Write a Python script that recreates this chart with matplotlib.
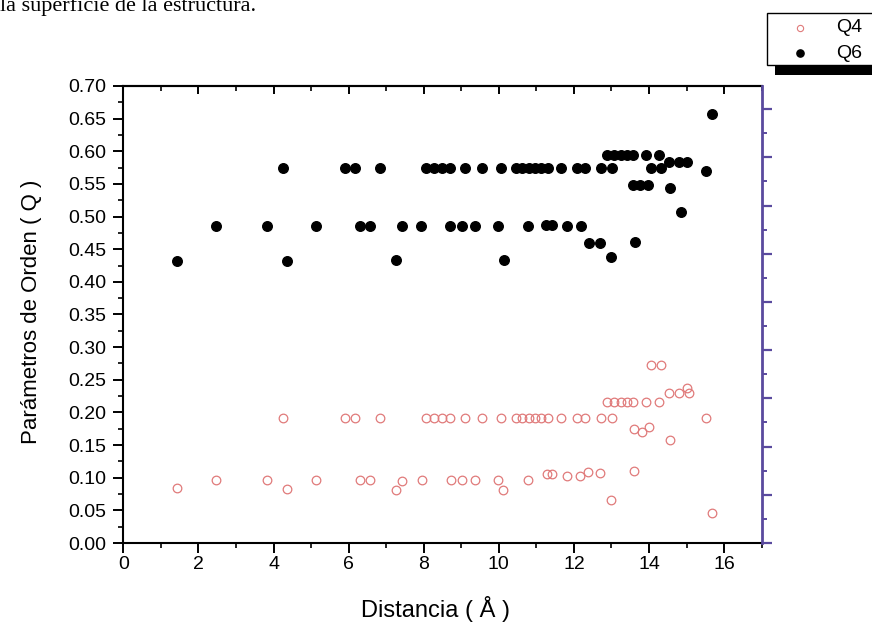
import matplotlib
matplotlib.use("Agg")
import matplotlib.pyplot as plt
from matplotlib.ticker import MultipleLocator, NullFormatter
from matplotlib.lines import Line2D
from matplotlib.patches import Rectangle

plt.rcParams['font.family'] = ['Liberation Sans', 'DejaVu Sans']

# ---- data ----
q6_x = [1.44, 2.46, 3.82, 4.25, 4.36, 5.14, 5.91, 6.16, 6.29, 6.56, 6.83, 7.25,
        7.42, 7.94, 8.05, 8.27, 8.49, 8.70, 8.71, 9.02, 9.09, 9.36, 9.54, 9.99,
        10.05, 10.13, 10.45, 10.62, 10.77, 10.80, 10.97, 11.13, 11.26, 11.30,
        11.42, 11.65, 11.82, 12.09, 12.18, 12.30, 12.40, 12.69, 12.71, 12.89,
        12.98, 13.01, 13.07, 13.25, 13.42, 13.56, 13.58, 13.63, 13.75, 13.91,
        13.97, 14.04, 14.27, 14.31, 14.53, 14.56, 14.80, 14.86, 15.02, 15.51, 15.69]
q6 = [0.432, 0.485, 0.485, 0.575, 0.432, 0.485, 0.575, 0.575, 0.485, 0.485, 0.575, 0.433,
      0.485, 0.485, 0.575, 0.575, 0.575, 0.575, 0.485, 0.485, 0.575, 0.485, 0.575, 0.485,
      0.575, 0.434, 0.575, 0.575, 0.485, 0.575, 0.575, 0.575, 0.487, 0.575,
      0.487, 0.575, 0.485, 0.575, 0.485, 0.575, 0.459, 0.459, 0.575, 0.594,
      0.438, 0.575, 0.594, 0.594, 0.594, 0.548, 0.594, 0.461, 0.548, 0.594,
      0.548, 0.575, 0.594, 0.575, 0.583, 0.543, 0.583, 0.507, 0.583, 0.570, 0.657]

q4_x = [1.44, 2.46, 3.82, 4.25, 4.37, 5.14, 5.91, 6.16, 6.29, 6.56, 6.83, 7.25,
        7.42, 7.95, 8.05, 8.27, 8.49, 8.70, 8.73, 9.02, 9.09, 9.36, 9.54, 9.99,
        10.05, 10.12, 10.45, 10.62, 10.77, 10.80, 10.97, 11.13, 11.27, 11.30,
        11.42, 11.65, 11.82, 12.09, 12.17, 12.30, 12.38, 12.69, 12.71, 12.89,
        12.98, 13.01, 13.07, 13.25, 13.42, 13.58, 13.60, 13.61, 13.80, 13.91,
        14.00, 14.04, 14.27, 14.31, 14.53, 14.56, 14.80, 15.02, 15.07, 15.51, 15.69]
q4 = [0.085, 0.097, 0.097, 0.191, 0.083, 0.097, 0.191, 0.191, 0.097, 0.097, 0.191, 0.081,
      0.095, 0.097, 0.191, 0.191, 0.191, 0.191, 0.097, 0.097, 0.191, 0.097, 0.191, 0.096,
      0.191, 0.081, 0.191, 0.191, 0.096, 0.191, 0.191, 0.191, 0.106, 0.191,
      0.106, 0.191, 0.103, 0.191, 0.102, 0.191, 0.109, 0.107, 0.191, 0.216,
      0.066, 0.191, 0.216, 0.216, 0.216, 0.216, 0.174, 0.111, 0.170, 0.216,
      0.178, 0.272, 0.216, 0.272, 0.229, 0.158, 0.230, 0.237, 0.229, 0.192, 0.046]

x_ticks = [0, 2, 4, 6, 8, 10, 12, 14, 16]
y_ticks = [0.00, 0.05, 0.10, 0.15, 0.20, 0.25, 0.30, 0.35, 0.40, 0.45, 0.50, 0.55, 0.60, 0.65, 0.70]
series_names = ['Q4', 'Q6']

q4_color = '#e07a7a'
purple = '#5a4a9e'

W, H = 872, 624
fig = plt.figure(figsize=(W / 100, H / 100), dpi=100)
fig.patch.set_facecolor('white')
ax = fig.add_axes([0.1414, 0.1298, 0.8735 - 0.1414, 0.8622 - 0.1298])

ax.plot(q4_x, q4, linestyle='none', marker='o', markersize=6.2,
        markerfacecolor='none', markeredgecolor=q4_color, markeredgewidth=0.9)
ax.plot(q6_x, q6, linestyle='none', marker='o', markersize=6.9,
        markerfacecolor='black', markeredgecolor='black')

ax.set_xlim(0, 17)
ax.set_ylim(0, 0.70)
ax.set_xticks(x_ticks)
ax.set_xticklabels([str(t) for t in x_ticks])
ax.set_yticks(y_ticks)
ax.set_yticklabels([f"{t:.2f}" for t in y_ticks])
ax.xaxis.set_minor_locator(MultipleLocator(1))
ax.yaxis.set_minor_locator(MultipleLocator(0.025))

for s in ['left', 'bottom', 'top']:
    ax.spines[s].set_linewidth(1.5)
    ax.spines[s].set_color('black')
ax.spines['right'].set_visible(False)

ax.tick_params(axis='both', which='major', direction='out', length=7, width=1.4,
               labelsize=14)
ax.tick_params(axis='y', which='major', pad=5)
ax.tick_params(axis='x', which='major', pad=2)
ax.tick_params(axis='both', which='minor', direction='out', length=3.5, width=1.2)

# top ticks inward
sec = ax.secondary_xaxis('top')
sec.set_xticks(x_ticks)
sec.xaxis.set_minor_locator(MultipleLocator(1))
sec.tick_params(axis='x', which='major', direction='in', length=6, width=1.4, labeltop=False)
sec.tick_params(axis='x', which='minor', direction='in', length=3.5, width=1.2)
sec.xaxis.set_major_formatter(NullFormatter())
sec.spines['top'].set_linewidth(1.5)

# right purple axis
ax2 = ax.twinx()
ax2.set_ylim(0, 9.48)
ax2.yaxis.set_major_locator(MultipleLocator(1))
ax2.yaxis.set_minor_locator(MultipleLocator(0.5))
ax2.yaxis.set_major_formatter(NullFormatter())
for s in ['left', 'bottom', 'top']:
    ax2.spines[s].set_visible(False)
ax2.spines['right'].set_color(purple)
ax2.spines['right'].set_linewidth(2)
ax2.tick_params(axis='y', which='major', direction='out', length=7, width=1.6, colors=purple)
ax2.tick_params(axis='y', which='minor', direction='out', length=3.5, width=1.4, colors=purple)

# axis titles
fig.text(435 / W, 1 - 617 / H, 'Distancia ( Å )', fontsize=17,
         ha='center', va='baseline')
fig.text(31 / W, 1 - 312 / H, 'Parámetros de Orden ( Q )', fontsize=16,
         rotation=90, ha='center', va='center')

# legend box with shadow (drawn in figure pixels)
def fx(px):
    return px / W

def fy(py):
    return 1 - py / H

fig.patches.append(Rectangle((fx(775), fy(75)), fx(110), 10 / H,
                             transform=fig.transFigure, facecolor='black',
                             edgecolor='none', zorder=1))
fig.patches.append(Rectangle((fx(767), fy(65)), fx(110), 52 / H,
                             transform=fig.transFigure, facecolor='white',
                             edgecolor='black', linewidth=1.0, zorder=2))
fig.add_artist(Line2D([fx(800)], [fy(28)], linestyle='none', marker='o', markersize=4.5,
                      markerfacecolor='none', markeredgecolor=q4_color,
                      markeredgewidth=0.8, transform=fig.transFigure, zorder=3))
fig.add_artist(Line2D([fx(800)], [fy(53)], linestyle='none', marker='o', markersize=5.2,
                      markerfacecolor='black', markeredgecolor='black',
                      transform=fig.transFigure, zorder=3))
fig.text(fx(836), fy(28), series_names[0], fontsize=14, ha='left', va='center', zorder=4)
fig.text(fx(836), fy(53), series_names[1], fontsize=14, ha='left', va='center', zorder=4)

# cropped document text at top
fig.text(0.0, 1 - 11 / H, 'la superficie de la estructura.', fontsize=16,
         family='Liberation Serif', va='baseline', ha='left')

fig.savefig('out.png', dpi=100, facecolor='white')
